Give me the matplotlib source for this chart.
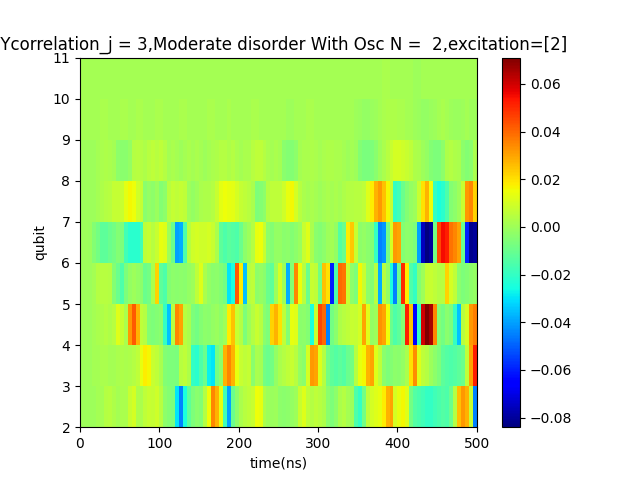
import numpy as np
import matplotlib
matplotlib.use("Agg")
import matplotlib.pyplot as plt

# correlation values, in units of 1e-3, one list per qubit row
# each row has 100 samples, one per 5 ns from 0 to 500 ns
q2 = [0, 0, 0, 0, 1, 1, 4, 5, 3, 1,
      2, 2, 8, 10, 3, 2, 6, 8, 7, 9,
      5, -3, -5, -6, -30, -45, -25, -12, -6, -4,
      -5, 4, 15, 35, 28, 14, -18, -40, -10, -3,
      2, 5, 6, 8, 15, 14, 2, 0, -1, 0,
      -3, -4, -3, -2, 0, 8, 12, 6, 4, 6,
      5, 3, -4, -6, -3, 2, 4, 1, 0, -15,
      -20, -8, 6, 10, 12, 14, 18, 28, 30, 10,
      14, 16, 12, -8, -14, -16, -18, -20, -20, -18,
      -16, -14, -15, -10, 4, 25, 32, 28, 8, -45]
q3 = [0, 0, 0, 1, 1, 2, 2, 1, 1, 2,
      3, 2, 3, 4, 6, 14, 18, 16, 8, 6,
      2, -5, -6, -6, -7, 5, 6, 3, -20, -22,
      -15, -10, -28, -30, -8, -3, 28, 35, 28, 14,
      8, 6, 7, -4, 2, 1, -8, -10, -8, -2,
      2, 4, 6, 8, 5, -2, -4, 10, 32, 30,
      12, 4, -8, -12, -14, -12, -14, -10, -8, 5,
      14, 16, 28, 30, 12, 6, -4, -6, -5, -3,
      -4, -2, 2, 20, 34, 12, 6, 4, 0, -3,
      -6, -12, -14, -15, -14, -12, -10, 6, 30, 52]
q4 = [0, 0, 0, 1, 2, 3, 4, 3, 5, 12,
      8, 2, 32, 42, 28, 6, 4, -5, -6, -5,
      -4, -20, -35, 5, 35, 30, 5, 2, -6, -8,
      -5, -3, -4, -2, -1, -3, 0, 18, 25, 8,
      4, -6, 0, 4, 8, 5, -4, -6, 22, 28,
      20, 6, -5, 14, 12, -4, -3, -5, -25, 8,
      45, 40, -45, -8, -4, 3, 5, 6, 8, 7,
      10, 30, 12, -2, 0, 33, 30, 15, -10, -15,
      -12, -5, 52, 25, -65, -20, 60, 71, 65, 35,
      -5, -8, -4, -6, -20, -35, 5, 10, 32, 36]
q5 = [0, 0, 0, 1, 4, 5, 5, 4, -5, -10,
      -15, -6, -2, 0, -2, -3, -10, -8, 2, 22,
      -12, -15, -5, -3, -4, -3, -4, -2, 0, 6,
      12, 2, -2, -4, -3, -5, -8, -30, -25, 42,
      18, -35, 5, 6, -3, -2, -4, -10, -12, 0,
      10, 0, -38, -5, 35, 15, 5, -10, 8, 6,
      -8, 25, 20, -60, -15, 40, 38, 8, -3, -6,
      16, 8, -3, -5, 5, -38, 5, -2, -25, -45,
      -10, 50, 18, -15, -20, -5, 0, 7, 8, 6,
      4, 5, 22, 10, 6, -4, -6, -5, -3, -2]
q6 = [0, 0, -1, -5, -8, -12, -12, -10, -8, -5,
      -6, -18, -22, -22, -22, -18, 6, 8, 5, 8,
      14, 12, 0, -10, -40, -38, -15, 5, 9, 10,
      9, 9, 10, 8, 2, -12, -15, -13, -14, -15,
      -10, -3, 0, 4, 14, 15, 8, -3, -5, -2,
      -2, -4, -3, -5, -3, -1, 8, 12, 2, -4,
      -5, -3, 0, 1, -2, -14, -10, 18, 24, 8,
      -3, -2, -4, -5, -20, -45, -42, -8, 10, 32,
      30, -5, -3, -4, -6, -40, -75, -84, -80, -8,
      45, 55, 52, 38, 35, 30, -10, -60, -82, -80]
q7 = [0, 0, 0, 0, 1, 3, 4, 5, 7, 7,
      8, 13, 16, 15, 9, 7, -4, -2, -3, -1,
      -5, -3, 5, 7, 6, 7, 6, 0, -2, 0,
      2, 3, 3, 4, 8, 13, 15, 14, 13, 10,
      7, 6, 5, 2, -6, -5, -3, 4, 6, 6,
      6, 9, 14, 16, 10, 5, 2, 1, 2, 1,
      0, 1, 2, 1, 2, 1, 3, 4, 4, 5,
      5, 6, 12, 18, 28, 32, 25, 16, 8, -20,
      -18, -10, -5, -2, 0, 8, 20, 28, 15, -20,
      -25, -22, -15, -5, -3, 0, 8, 32, 35, 22]
q8 = [0, 0, 0, 0, 1, 2, 3, 2, 1, -3,
      -4, -4, -2, 4, 5, 4, 3, 5, 6, 5,
      6, 4, 1, 2, 1, 0, 1, 2, 1, 2,
      1, 0, 1, 2, 3, 4, 4, 3, 4, 2,
      1, 2, 2, 5, 6, 6, 4, 2, 1, 2,
      1, -4, -5, -5, -3, 1, 2, 2, 3, 2,
      1, 2, 3, 3, 2, 2, 1, 0, 1, 0,
      -5, -7, -7, -6, -4, 0, 2, 5, 8, 10,
      10, 9, 8, 6, 3, 2, 0, -2, -5, -6,
      -6, -3, 3, 4, 3, 2, -3, -5, -4, 2]
q9 = [1, 1, 1, 1, 1, 2, 2, 1, 1, 1,
      2, 2, 1, 1, 2, 2, 1, 1, 1, 2,
      2, 1, 1, 1, 1, 2, 2, 1, 1, 1,
      1, 1, 2, 2, 1, 1, 1, 2, 1, 1,
      1, 1, 1, 2, 2, 1, 1, 1, 1, 1,
      1, 1, 0, 0, 1, 1, 1, 2, 2, 1,
      1, 1, 1, 1, 1, 1, 1, 1, 1, 0,
      -1, -2, -2, -1, 0, 1, 2, 3, 3, 3,
      2, 2, 1, 1, 0, -1, -2, -2, -1, 0,
      1, 2, 1, 0, -1, -1, 0, 1, 0, 0]
q10 = [1, 1, 1, 1, 1, 1, 1, 1, 1, 1,
       1, 1, 1, 1, 1, 1, 1, 1, 1, 1,
       1, 1, 1, 1, 1, 1, 1, 1, 1, 1,
       1, 1, 1, 1, 1, 1, 1, 1, 1, 1,
       1, 1, 1, 1, 1, 1, 1, 1, 1, 1,
       1, 1, 1, 1, 1, 1, 1, 1, 1, 1,
       1, 1, 1, 1, 1, 1, 1, 1, 1, 1,
       1, 1, 1, 1, 1, 1, 2, 2, 1, 1,
       1, 1, 1, 1, 0, 0, 1, 1, 1, 1,
       1, 1, 1, 1, 1, 1, 1, 1, 1, 1]

time_edges = np.arange(0, 505, 5)
qubit_edges = np.arange(2, 12)

title = "XYcorrelation_j = 3,Moderate disorder With Osc N =  2,excitation=[2]"

Z = np.array([q2, q3, q4, q5, q6, q7, q8, q9, q10]) * 1e-3

fig = plt.figure(figsize=(6.4, 4.8), dpi=100)
plt.pcolormesh(time_edges, qubit_edges, Z, cmap="jet", vmin=-0.084, vmax=0.071)
plt.colorbar()
plt.yticks(qubit_edges)
plt.xlabel("time(ns)")
plt.ylabel("qubit")
plt.title(title)
plt.savefig("out.png")
